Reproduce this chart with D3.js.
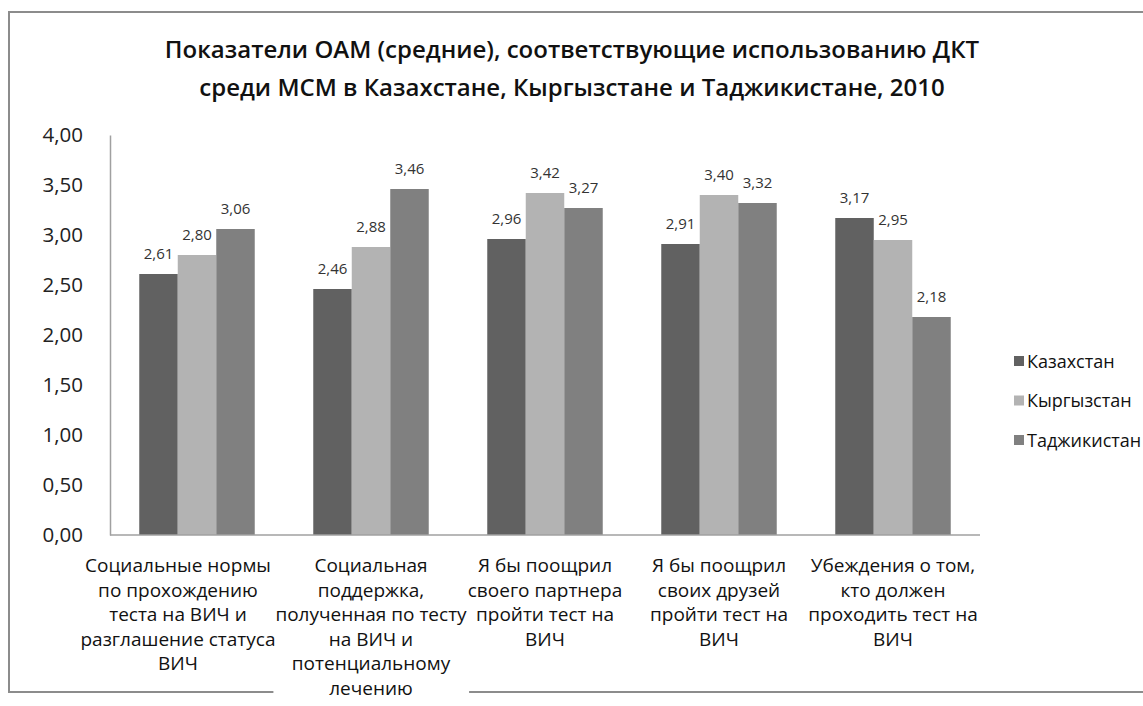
<!DOCTYPE html>
<html>
<head>
<meta charset="utf-8">
<script src="https://cdn.jsdelivr.net/npm/d3@7"></script>
<style>
  body { margin: 0; background: #fff; }
  svg { display: block; font-family: "Open Sans", sans-serif; }
</style>
</head>
<body>
<script>
// chart values
var categories = [
    ["Социальные нормы", "по прохождению", "теста на ВИЧ и", "разглашение статуса", "ВИЧ"],
    ["Социальная", "поддержка,", "полученная по тесту", "на ВИЧ и", "потенциальному", "лечению"],
    ["Я бы поощрил", "своего партнера", "пройти тест на", "ВИЧ"],
    ["Я бы поощрил", "своих друзей", "пройти тест на", "ВИЧ"],
    ["Убеждения о том,", "кто должен", "проходить тест на", "ВИЧ"]
];
var seriesNames = ["Казахстан", "Кыргызстан", "Таджикистан"];
var kazakhstan = [2.61, 2.46, 2.96, 2.91, 3.17];
var kyrgyzstan = [2.80, 2.88, 3.42, 3.40, 2.95];
var tajikistan = [3.06, 3.46, 3.27, 3.32, 2.18];
var yTicks = [0, 0.5, 1, 1.5, 2, 2.5, 3, 3.5, 4];
var titleLines = [
    "Показатели ОАМ (средние), соответствующие использованию ДКТ",
    "среди МСМ в Казахстане, Кыргызстане и Таджикистане, 2010"
];

var colors = ["#616161", "#b3b3b3", "#808080"];
var series = [kazakhstan, kyrgyzstan, tajikistan];

var W = 1143, H = 706;
var plot = {left: 110, right: 980, top: 135, bottom: 535};

var fmt = function(v) { return d3.format(".2f")(v).replace(".", ","); };

var svg = d3.select("body").append("svg")
    .attr("width", W).attr("height", H);

// outer frame
svg.append("rect")
    .attr("x", 9).attr("y", 12)
    .attr("width", W + 20).attr("height", 680)
    .attr("fill", "#fff")
    .attr("stroke", "#8c8c8c").attr("stroke-width", 2);

// title
svg.append("text")
    .attr("text-anchor", "middle")
    .attr("font-weight", 600)
    .attr("font-size", 24)
    .attr("fill", "#111")
    .selectAll("tspan")
    .data(titleLines)
    .enter().append("tspan")
    .attr("x", 572)
    .attr("y", function(d, i) { return 58 + i * 38; })
    .text(function(d) { return d; });

var x0 = d3.scaleBand()
    .domain(d3.range(categories.length))
    .range([plot.left, plot.right]);

var x1 = d3.scaleBand()
    .domain(d3.range(series.length))
    .range([0, x0.bandwidth()])
    .paddingOuter(0.76);

var y = d3.scaleLinear()
    .domain([0, 4])
    .range([plot.bottom, plot.top]);

// y axis
var yAxis = svg.append("g")
    .attr("transform", "translate(" + plot.left + ",0)")
    .call(d3.axisLeft(y).tickValues(yTicks).tickFormat(fmt).tickSize(0).tickPadding(27));
yAxis.select(".domain").attr("stroke", "#a0a0a0").attr("stroke-width", 1.5);
yAxis.selectAll("text")
    .attr("font-family", "Open Sans, sans-serif")
    .attr("font-size", 20.5)
    .attr("fill", "#222");

// bars
var groups = svg.selectAll("g.series")
    .data(series)
    .enter().append("g")
    .attr("class", "series")
    .attr("fill", function(d, i) { return colors[i]; });

groups.each(function(vals, si) {
    var g = d3.select(this);
    g.selectAll("rect")
        .data(vals)
        .enter().append("rect")
        .attr("x", function(d, ci) { return x0(ci) + x1(si); })
        .attr("width", x1.bandwidth())
        .attr("y", function(d) { return y(d); })
        .attr("height", function(d) { return y(0) - y(d); });
    g.selectAll("text")
        .data(vals)
        .enter().append("text")
        .attr("x", function(d, ci) { return x0(ci) + x1(si) + x1.bandwidth() / 2; })
        .attr("y", function(d) { return y(d) - 15; })
        .attr("text-anchor", "middle")
        .attr("font-size", 15)
        .attr("fill", "#333")
        .text(function(d) { return fmt(d); });
});

// x axis line
svg.append("line")
    .attr("x1", plot.left).attr("x2", plot.right)
    .attr("y1", y(0)).attr("y2", y(0))
    .attr("stroke", "#a0a0a0").attr("stroke-width", 1.5);

// category labels (backgrounds first so they never cover a neighbour's text)
var bgLayer = svg.append("g");
var txtLayer = svg.append("g");

categories.forEach(function(lines, ci) {
    // first label sits a bit left, as in the original layout
    var cx = x0(ci) + x0.bandwidth() / 2 - (ci === 0 ? 19 : 0);
    var t = txtLayer.append("text")
        .attr("text-anchor", "middle")
        .attr("font-size", 19)
        .attr("fill", "#111");
    t.selectAll("tspan")
        .data(lines)
        .enter().append("tspan")
        .attr("x", cx)
        .attr("y", function(d, i) { return 572 + i * 24.5; })
        .text(function(d) { return d; });
    var b = t.node().getBBox();
    bgLayer.append("rect")
        .attr("fill", "#fff")
        .attr("x", b.x - 2).attr("y", b.y)
        .attr("width", b.width + 4).attr("height", b.height + 4);
});

// legend
var leg = svg.append("g")
    .selectAll("g")
    .data(seriesNames)
    .enter().append("g")
    .attr("transform", function(d, i) { return "translate(1014," + (361 + i * 39.5) + ")"; });
leg.append("rect")
    .attr("x", 0).attr("y", -5).attr("width", 10).attr("height", 10)
    .attr("fill", function(d, i) { return colors[i]; });
leg.append("text")
    .attr("x", 13).attr("y", 6.5)
    .attr("font-size", 18)
    .attr("fill", "#111")
    .text(function(d) { return d; });
</script>
</body>
</html>
